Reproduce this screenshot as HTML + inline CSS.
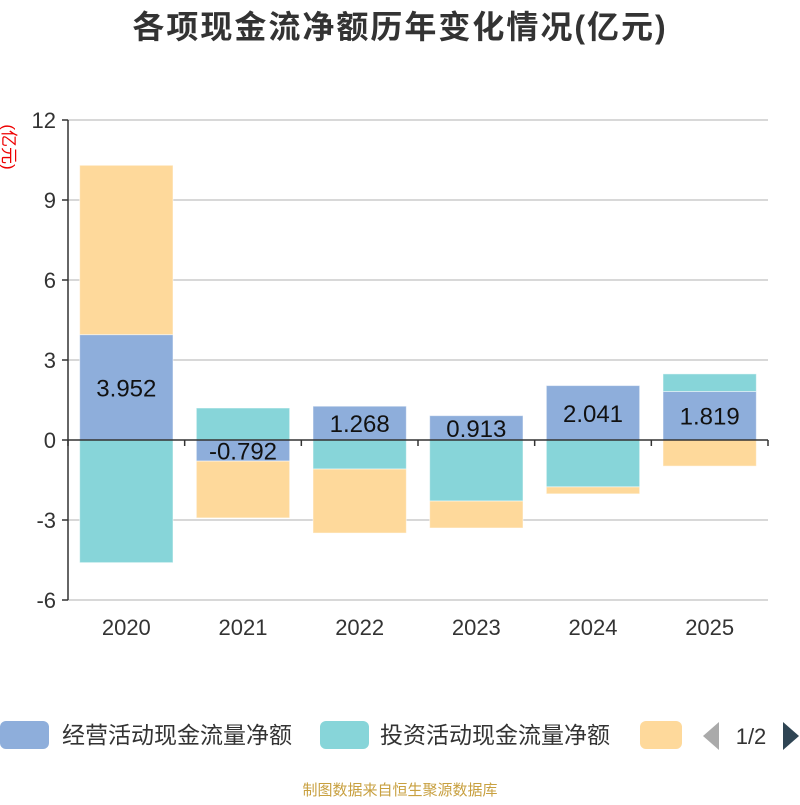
<!DOCTYPE html>
<html><head><meta charset="utf-8"><style>
body{margin:0;background:#fff;width:800px;height:800px;overflow:hidden;font-family:"Liberation Sans","Noto Sans CJK SC",sans-serif}
</style></head><body>
<svg width="800" height="800" xmlns="http://www.w3.org/2000/svg" id="chart" font-family="'Liberation Sans','Noto Sans CJK SC',sans-serif">
<text x="400" y="38" text-anchor="middle" font-size="32" font-weight="bold" letter-spacing="2" fill="#333">各项现金流净额历年变化情况(亿元)</text>
<text transform="translate(3,147) rotate(90)" text-anchor="middle" font-size="17" fill="#e00">(亿元)</text>
<g id="grid"></g><g id="bars"></g><g id="axes"></g><g id="labels"></g>
<g>
<rect x="0" y="721" width="49" height="28" rx="6" fill="#8eaedb"/>
<text x="62" y="743" font-size="23" fill="#333">经营活动现金流量净额</text>
<rect x="320" y="721" width="49" height="28" rx="6" fill="#87d5d9"/>
<text x="380" y="743" font-size="23" fill="#333">投资活动现金流量净额</text>
<rect x="640" y="721" width="42" height="28" rx="6" fill="#fed99b"/>
<polygon points="719,722 719,750 703,736" fill="#aaa"/>
<text x="751" y="744" text-anchor="middle" font-size="22" fill="#333">1/2</text>
<polygon points="783,722 783,750 799,736" fill="#2f4554"/>
</g>
<text x="400" y="795" text-anchor="middle" font-size="15" fill="#c8a040">制图数据来自恒生聚源数据库</text>
</svg>
<script>
const categories=["2020","2021","2022","2023","2024","2025"];
const operating=[3.952,-0.792,1.268,0.913,2.041,1.819];
const investing=[-4.6,1.2,-1.09,-2.29,-1.76,0.66];
const financing=[6.35,-2.13,-2.40,-1.01,-0.26,-0.98];
const yTicks=[-6,-3,0,3,6,9,12];
const NS="http://www.w3.org/2000/svg";
const L=68,R=768,T=120,B=600,ymin=-6,ymax=12;
const y=v=>B-(v-ymin)/(ymax-ymin)*(B-T);
const bw=(R-L)/categories.length;
const xc=i=>L+bw*(i+0.5);
function mk(tag,attrs,parent){const e=document.createElementNS(NS,tag);for(const k in attrs)e.setAttribute(k,attrs[k]);document.getElementById(parent).appendChild(e);return e;}
yTicks.forEach(t=>{
 if(t!==0){const g=mk('line',{x1:L,x2:R,y1:y(t),y2:y(t),stroke:'#ccc','stroke-width':1.5},'grid');
 
 }
 const tk=mk('line',{x1:L-6,x2:L,y1:y(t),y2:y(t),stroke:'#333','stroke-width':1.5},'axes');
 
 
 const tx=mk('text',{x:L-12,y:y(t)+8,'text-anchor':'end','font-size':22,fill:'#333'},'axes');
 tx.textContent=t;
 
 
});
const series=[[operating,'#8eaedb','operating'],[investing,'#87d5d9','investing'],[financing,'#fed99b','financing']];
categories.forEach((c,i)=>{
 let pos=0,neg=0;
 series.forEach(([arr,col,nm])=>{
  const v=arr[i];let a,b;
  if(v>=0){a=pos;b=pos+v;pos=b;}else{a=neg;b=neg+v;neg=b;}
  const r=mk('rect',{x:xc(i)-bw*0.4,width:bw*0.8,y:Math.min(y(a),y(b)),height:Math.abs(y(a)-y(b)),fill:col,stroke:'rgba(255,255,255,0.5)','stroke-width':1},'bars');
  
  
 });
 const v=operating[i];
 const lt=mk('text',{x:xc(i),y:(y(0)+y(v))/2+9,'text-anchor':'middle','font-size':24,fill:'#111'},'labels');
 lt.textContent=v.toFixed(3);
 
 
 const xl=mk('text',{x:xc(i),y:635,'text-anchor':'middle','font-size':22,fill:'#333'},'axes');
 xl.textContent=c;
 
 
});
for(let i=0;i<=categories.length;i++){
 const t=mk('line',{x1:L+bw*i,x2:L+bw*i,y1:y(0),y2:y(0)+6,stroke:'#333','stroke-width':1.5},'axes');
 
 
}
const xa=mk('line',{x1:L,x2:R,y1:y(0),y2:y(0),stroke:'#333','stroke-width':1.5},'axes');


const ya=mk('line',{x1:L,x2:L,y1:T,y2:B,stroke:'#333','stroke-width':1.5},'axes');


</script>
</body></html>
